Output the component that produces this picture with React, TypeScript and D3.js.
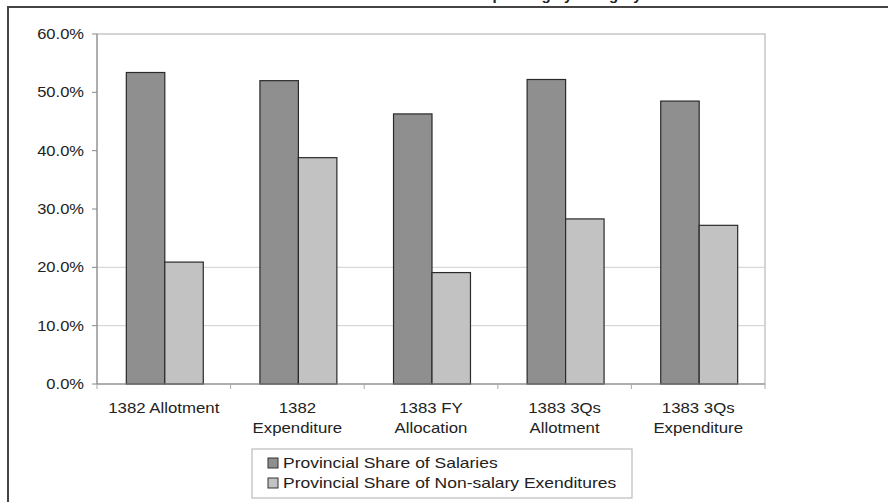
import React from "react";
import * as d3 from "d3";

const categories: string[][] = [
  ["1382 Allotment"],
  ["1382", "Expenditure"],
  ["1383 FY", "Allocation"],
  ["1383 3Qs", "Allotment"],
  ["1383 3Qs", "Expenditure"],
];
const salaries = [53.4, 52.0, 46.3, 52.2, 48.5];
const nonSalary = [20.9, 38.8, 19.1, 28.3, 27.2];
const seriesNames = [
  "Provincial Share of Salaries",
  "Provincial Share of Non-salary Exenditures",
];
const yTicks = [0, 10, 20, 30, 40, 50, 60];
const gridValues = [10, 20];
const titleText = "Provincial Share of Spending by Category";

const W = 888;
const H = 502;
const font = "'Liberation Sans', Arial, sans-serif";

function T(props: { x: number; y: number; sx: number; size: number; anchor?: string; dy?: string; weight?: string; children: React.ReactNode }) {
  const { x, y, sx, size, anchor, dy, weight, children } = props;
  return (
    <g transform={`translate(${x},${y}) scale(${sx},1)`}>
      <text x={0} y={0} dy={dy} textAnchor={anchor || "start"} fontSize={size} fontWeight={weight} fill="#222">
        {children}
      </text>
    </g>
  );
}

export default function App() {
  const left = 97, right = 765, top = 34, bottom = 384;
  const x = d3.scaleBand<number>().domain(d3.range(categories.length)).range([left, right]).paddingInner(0).paddingOuter(0);
  const y = d3.scaleLinear().domain([0, 60]).range([bottom, top]);
  const bw = x.bandwidth();
  const barW = bw * 0.288;
  const offset = (bw - 2 * barW) / 2 + 1;
  const colors = ["#8f8f8f", "#c2c2c2"];
  const series = [salaries, nonSalary];

  return (
    <div style={{ position: "absolute", left: 0, top: 0 }}>
      <svg width={W} height={H} style={{ display: "block", background: "#fff" }} fontFamily={font}>
        <rect x={0} y={0} width={W} height={H} fill="#fff" />
        {/* cut-off title */}
        <T x={492} y={0} sx={1.0} size={15} anchor="middle" weight="bold">
          {titleText}
        </T>
        {/* outer frame */}
        <rect x={8} y={7} width={W + 20} height={H + 20} fill="none" stroke="#444" strokeWidth={2} />
        {/* plot area border */}
        <rect x={left} y={top} width={right - left} height={bottom - top} fill="#fff" stroke="#b8b8b8" strokeWidth={1.2} />
        {gridValues.map((g) => (
          <line key={g} x1={left} x2={right} y1={y(g)} y2={y(g)} stroke="#cfcfcf" strokeWidth={1} />
        ))}
        {/* bars */}
        {series.map((s, si) =>
          s.map((v, i) => (
            <rect
              key={`${si}-${i}`}
              x={(x(i) as number) + offset + si * barW}
              y={y(v)}
              width={barW}
              height={y(0) - y(v)}
              fill={colors[si]}
              stroke="#2a2a2a"
              strokeWidth={1.2}
            />
          ))
        )}
        {/* y axis */}
        <line x1={left} x2={left} y1={top} y2={bottom} stroke="#888" strokeWidth={1} />
        {yTicks.map((t) => (
          <g key={t}>
            <line x1={left - 5} x2={left} y1={y(t)} y2={y(t)} stroke="#888" />
            <T x={84} y={y(t)} dy="0.36em" anchor="end" size={14} sx={1.18}>
              {t.toFixed(1)}%
            </T>
          </g>
        ))}
        {/* x axis */}
        <line x1={left} x2={right} y1={bottom} y2={bottom} stroke="#888" strokeWidth={1} />
        {d3.range(categories.length + 1).map((i) => (
          <line key={i} x1={left + i * bw} x2={left + i * bw} y1={bottom} y2={bottom + 5} stroke="#aaa" />
        ))}
        {categories.map((lines, i) =>
          lines.map((l, j) => (
            <T key={`${i}-${j}`} x={(x(i) as number) + bw / 2} y={413 + j * 20} anchor="middle" size={14} sx={1.2}>
              {l}
            </T>
          ))
        )}
        {/* legend */}
        <rect x={252} y={449} width={380} height={49} fill="#fff" stroke="#bbb" strokeWidth={1.2} />
        {seriesNames.map((n, i) => (
          <g key={n}>
            <rect x={268} y={458 + i * 20} width={10} height={10} fill={colors[i]} stroke="#333" strokeWidth={1} />
            <T x={283} y={468 + i * 20} size={14} sx={1.25}>
              {n}
            </T>
          </g>
        ))}
      </svg>
    </div>
  );
}
